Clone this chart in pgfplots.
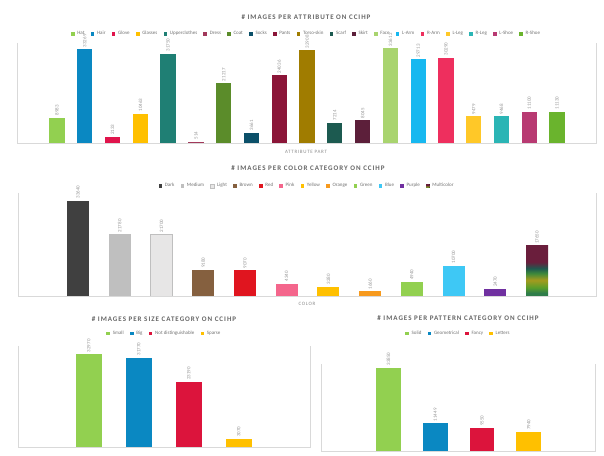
\documentclass[border=0pt]{standalone}
\usepackage{pgfplots}
\pgfplotsset{compat=1.18}
\usepackage{fontspec}
\setmainfont{Carlito}
\newcommand\ttl{\fontsize{7}{8}\selectfont\bfseries\addfontfeature{LetterSpace=14}}
\newcommand\xl{\fontsize{5}{6}\selectfont\addfontfeature{LetterSpace=14}}
\newcommand\lgd{\fontsize{5}{6}\selectfont}
\newcommand\lbl{\fontsize{5}{6}\selectfont}
% attribute colours
\definecolor{cHat}{HTML}{92D050}
\definecolor{cHair}{HTML}{0A88C2}
\definecolor{cGlove}{HTML}{E0144C}
\definecolor{cGlasses}{HTML}{FFC000}
\definecolor{cUpper}{HTML}{1F7F74}
\definecolor{cDress}{HTML}{A2395B}
\definecolor{cCoat}{HTML}{5B8C2A}
\definecolor{cSocks}{HTML}{0B5069}
\definecolor{cPants}{HTML}{8B1538}
\definecolor{cTorso}{HTML}{A07C00}
\definecolor{cScarf}{HTML}{1C5A50}
\definecolor{cSkirt}{HTML}{5C1F3A}
\definecolor{cFace}{HTML}{A9D46F}
\definecolor{cLArm}{HTML}{17B8F0}
\definecolor{cRArm}{HTML}{EE2F5E}
\definecolor{cLLeg}{HTML}{FFC828}
\definecolor{cRLeg}{HTML}{2BB5B5}
\definecolor{cLShoe}{HTML}{B83A72}
\definecolor{cRShoe}{HTML}{6AB42D}
% colour-category colours
\definecolor{kDark}{HTML}{404040}
\definecolor{kMedium}{HTML}{BFBFBF}
\definecolor{kLight}{HTML}{E7E6E6}
\definecolor{kBrown}{HTML}{85603F}
\definecolor{kRed}{HTML}{E0151F}
\definecolor{kPink}{HTML}{F4668C}
\definecolor{kYellow}{HTML}{FFC000}
\definecolor{kOrange}{HTML}{F79A1E}
\definecolor{kGreen}{HTML}{92D050}
\definecolor{kBlue}{HTML}{3EC8F5}
\definecolor{kPurple}{HTML}{7030A0}
\definecolor{mA}{HTML}{2F7D4A}
\definecolor{mB}{HTML}{5A9E2A}
\definecolor{mC}{HTML}{A59A1E}
\definecolor{mD}{HTML}{3F8A3A}
\definecolor{mE}{HTML}{1E5A50}
\definecolor{mF}{HTML}{6A1E3C}
\pgfdeclareverticalshading{multicol}{100bp}{color(0bp)=(mA); color(25bp)=(mA); color(28bp)=(mA); color(33.5bp)=(mB); color(41bp)=(mC); color(47.5bp)=(mD); color(52.5bp)=(mE); color(59bp)=(mF); color(75bp)=(mF); color(100bp)=(mF)}
% size / pattern colours
\definecolor{sGreen}{HTML}{92D050}
\definecolor{sBlue}{HTML}{0A88C2}
\definecolor{sRed}{HTML}{DC143C}
\definecolor{sYellow}{HTML}{FFC000}

\pgfplotsset{
  chart/.style={
    scale only axis, ymin=0, clip=false,
    axis line style={draw=none}, xtick=\empty, ytick=\empty,
    ybar, every axis plot/.append style={bar shift=0pt, draw=none},
    nodes near coords,
    nodes near coords style={rotate=90, anchor=west, font=\lbl, text=black!40, inner sep=2pt},
    /pgf/number format/fixed, /pgf/number format/precision=0,
    /pgf/number format/1000 sep={}, /pgf/number format/assume math mode=true,
    legend image code/.code={\fill[##1] (0pt,-1.8pt) rectangle (3.6pt,1.8pt);},
    legend columns=-1,
    legend style={draw=none, fill=none, font=\lgd, text=black!55, anchor=center, inner sep=0pt,
      /tikz/every even column/.append style={column sep=4.2pt},
      /tikz/every odd column/.append style={column sep=0.8pt}},
  },
}

\begin{document}
\begin{tikzpicture}[x=1pt,y=1pt]
\fill[white] (0,0) rectangle (604,455);
\useasboundingbox (0,0) rectangle (604,455);

% ---------- chart 1: attributes ----------
\node[text=black!60] at (306,437.7) {\ttl \# IMAGES PER ATTRIBUTE ON CCIHP};
\node[text=black!45] at (306,303) {\xl ATTRIBUTE PART};
\begin{axis}[chart, at={(17pt,312pt)}, anchor=south west, width=579pt, height=100pt,
  xmin=-1.44, xmax=19.40, ymax=35500, bar width=15.3pt,
  legend style={at={(0.5,1.09)}}]
\addplot[fill=cHat] coordinates {(0,8983)}; \addlegendentry{Hat}
\addplot[fill=cHair] coordinates {(1,33269)}; \addlegendentry{Hair}
\addplot[fill=cGlove] coordinates {(2,2133)}; \addlegendentry{Glove}
\addplot[fill=cGlasses] coordinates {(3,10463)}; \addlegendentry{Glasses}
\addplot[fill=cUpper] coordinates {(4,31750)}; \addlegendentry{Upperclothes}
\addplot[fill=cDress] coordinates {(5,514)}; \addlegendentry{Dress}
\addplot[fill=cCoat] coordinates {(6,21217)}; \addlegendentry{Coat}
\addplot[fill=cSocks] coordinates {(7,3661)}; \addlegendentry{Socks}
\addplot[fill=cPants] coordinates {(8,24036)}; \addlegendentry{Pants}
\addplot[fill=cTorso] coordinates {(9,32908)}; \addlegendentry{Torso-skin}
\addplot[fill=cScarf] coordinates {(10,7214)}; \addlegendentry{Scarf}
\addplot[fill=cSkirt] coordinates {(11,8045)}; \addlegendentry{Skirt}
\addplot[fill=cFace] coordinates {(12,33612)}; \addlegendentry{Face}
\addplot[fill=cLArm] coordinates {(13,29713)}; \addlegendentry{L-Arm}
\addplot[fill=cRArm] coordinates {(14,30290)}; \addlegendentry{R-Arm}
\addplot[fill=cLLeg] coordinates {(15,9479)}; \addlegendentry{L-Leg}
\addplot[fill=cRLeg] coordinates {(16,9468)}; \addlegendentry{R-Leg}
\addplot[fill=cLShoe] coordinates {(17,11100)}; \addlegendentry{L-Shoe}
\addplot[fill=cRShoe] coordinates {(18,11130)}; \addlegendentry{R-Shoe}
\draw[black!15, line width=0.8pt] (rel axis cs:0,1) -- (rel axis cs:0,0) -- (rel axis cs:1,0) -- (rel axis cs:1,1);
\end{axis}

% ---------- chart 2: colours ----------
\node[text=black!60] at (308,287) {\ttl \# IMAGES PER COLOR CATEGORY ON CCIHP};
\node[text=black!45] at (307,151) {\xl COLOR};
\begin{axis}[chart, at={(18pt,159pt)}, anchor=south west, width=578pt, height=103pt,
  xmin=-1.438, xmax=12.414, ymax=36360, bar width=22pt,
  legend style={at={(0.5,1.068)}}]
\addplot[fill=kDark] coordinates {(0,33640)}; \addlegendentry{Dark}
\addplot[fill=kMedium] coordinates {(1,21780)}; \addlegendentry{Medium}
\addplot[fill=kLight, draw=black!25] coordinates {(2,21700)}; \addlegendentry{Light}
\addplot[fill=kBrown] coordinates {(3,9180)}; \addlegendentry{Brown}
\addplot[fill=kRed] coordinates {(4,9070)}; \addlegendentry{Red}
\addplot[fill=kPink] coordinates {(5,4340)}; \addlegendentry{Pink}
\addplot[fill=kYellow] coordinates {(6,3280)}; \addlegendentry{Yellow}
\addplot[fill=kOrange] coordinates {(7,1660)}; \addlegendentry{Orange}
\addplot[fill=kGreen] coordinates {(8,4940)}; \addlegendentry{Green}
\addplot[fill=kBlue] coordinates {(9,10700)}; \addlegendentry{Blue}
\addplot[fill=kPurple] coordinates {(10,2470)}; \addlegendentry{Purple}
\addplot[shade, shading=multicol] coordinates {(11,17650)}; \addlegendentry{Multicolor}
\draw[black!15, line width=0.8pt] (rel axis cs:0,1) -- (rel axis cs:0,0) -- (rel axis cs:1,0) -- (rel axis cs:1,1);
\end{axis}

% ---------- chart 3: size ----------
\node[text=black!60] at (164,136) {\ttl \# IMAGES PER SIZE CATEGORY ON CCIHP};
\begin{axis}[chart, at={(18pt,7.3pt)}, anchor=south west, width=292.7pt, height=101.7pt,
  xmin=-1.416, xmax=4.44, ymax=35900, bar width=25.7pt,
  legend style={at={(0.5,1.121)}}]
\addplot[fill=sGreen] coordinates {(0,32970)}; \addlegendentry{Small}
\addplot[fill=sBlue] coordinates {(1,31770)}; \addlegendentry{Big}
\addplot[fill=sRed] coordinates {(2,23190)}; \addlegendentry{Not distinguishable}
\addplot[fill=sYellow] coordinates {(3,3070)}; \addlegendentry{Sparse}
\draw[black!15, line width=0.8pt] (rel axis cs:0,1) -- (rel axis cs:0,0) -- (rel axis cs:1,0) -- (rel axis cs:1,1);
\end{axis}

% ---------- chart 4: pattern ----------
\node[text=black!60] at (458,136.7) {\ttl \# IMAGES PER PATTERN CATEGORY ON CCIHP};
\begin{axis}[chart, at={(321.7pt,3.3pt)}, anchor=south west, width=273.3pt, height=87.7pt,
  xmin=-1.423, xmax=4.414, ymax=35340, bar width=24.7pt,
  legend style={at={(0.5,1.35)}}]
\addplot[fill=sGreen] coordinates {(0,33850)}; \addlegendentry{Solid}
\addplot[fill=sBlue] coordinates {(1,11449)}; \addlegendentry{Geometrical}
\addplot[fill=sRed] coordinates {(2,9550)}; \addlegendentry{Fancy}
\addplot[fill=sYellow] coordinates {(3,7940)}; \addlegendentry{Letters}
\draw[black!15, line width=0.8pt] (rel axis cs:0,1) -- (rel axis cs:0,0) -- (rel axis cs:1,0) -- (rel axis cs:1,1);
\end{axis}
\end{tikzpicture}
\end{document}
